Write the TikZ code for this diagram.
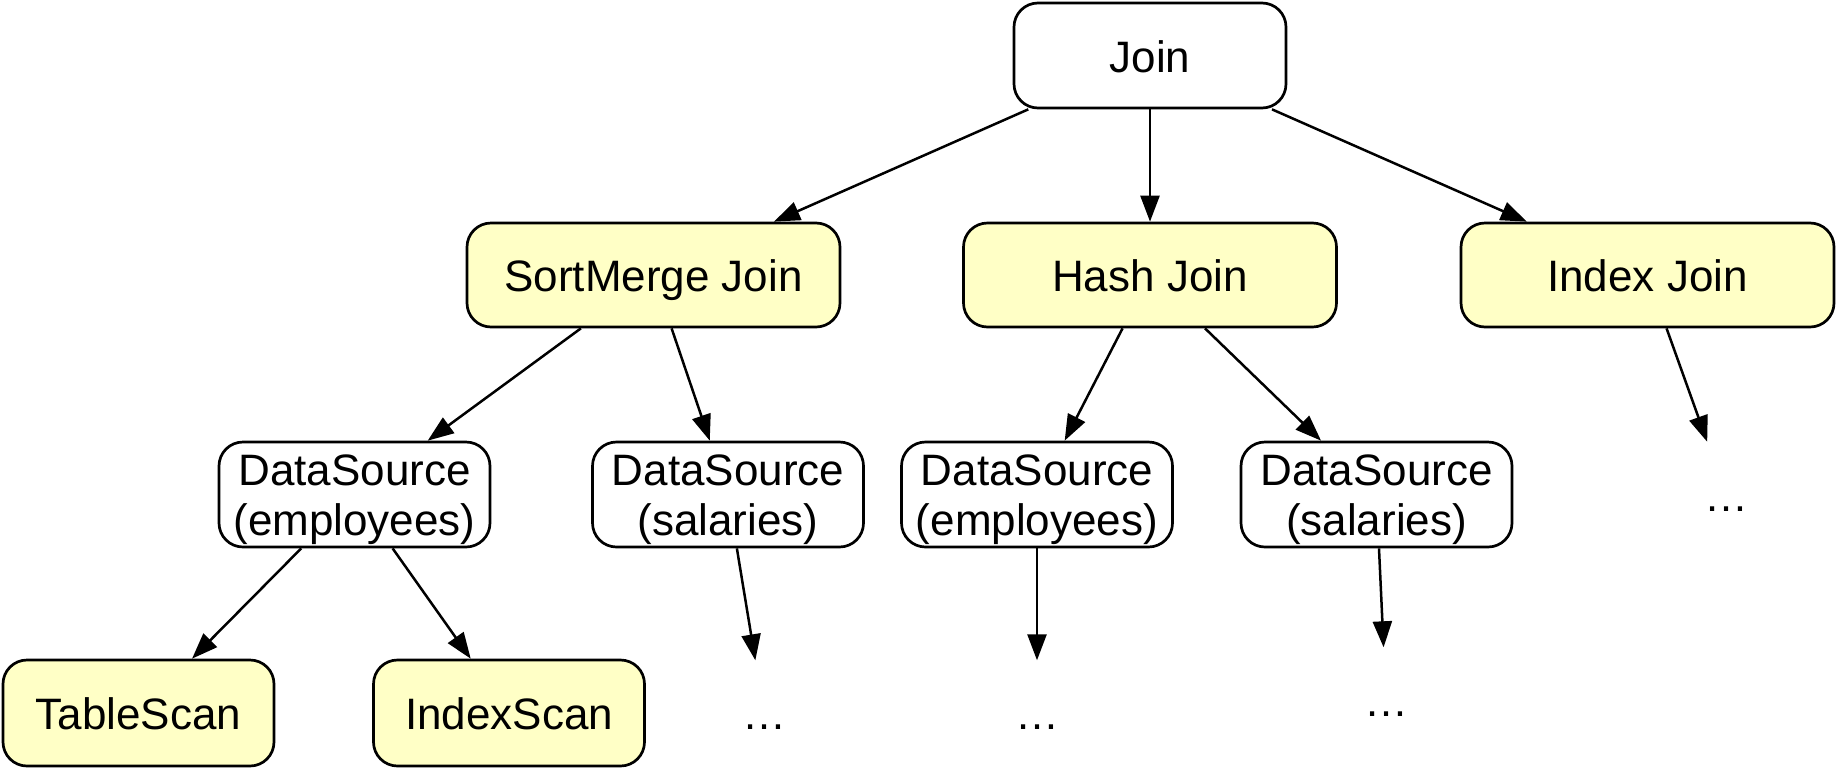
\documentclass[tikz,border=0pt]{standalone}
\usepackage{fontspec}
\setmainfont{Liberation Sans}
\usetikzlibrary{arrows.meta}
\definecolor{nodeyellow}{HTML}{FFFFC6}
\begin{document}
\begin{tikzpicture}[x=1pt,y=-1pt,
  basebox/.style={rectangle, rounded corners=24pt, draw=black, line width=2.7pt, inner sep=0pt,
    font=\fontsize{44}{44}\selectfont, text height=42pt, text depth=9pt},
  plainbox/.style={basebox, fill=white},
  yellowbox/.style={basebox, fill=nodeyellow},
  joinbox/.style={plainbox, minimum width=272pt, minimum height=105pt},
  algbox/.style={yellowbox, minimum width=373pt, minimum height=104pt},
  dsbox/.style={plainbox, minimum width=271pt, minimum height=105pt, font=\fontsize{44}{50}\selectfont,
    text height=20pt, text depth=39pt},
  scanbox/.style={yellowbox, minimum width=271pt, minimum height=106pt},
  dotsbox/.style={rectangle, inner sep=0pt, minimum width=271pt, minimum height=105pt,
    font=\fontsize{44}{44}\selectfont, text height=42pt, text depth=9pt},
  edge/.style={-{Triangle[length=26pt,width=19pt]}, line width=2.5pt}
]
\useasboundingbox (0,0) rectangle (1836,769);

\node[joinbox] (join) at (1150,55.5) {Join};

\node[algbox] (smj) at (653.5,275) {SortMerge Join};
\node[algbox] (hj) at (1150,275) {Hash Join};
\node[algbox] (ij) at (1647.5,275) {Index Join};

\node[dsbox] (e1) at (354.5,494.5) {\begin{tabular}[t]{@{}c@{}}DataSource\\(employees)\end{tabular}};
\node[dsbox] (s1) at (728,494.5) {\begin{tabular}[t]{@{}c@{}}DataSource\\(salaries)\end{tabular}};
\node[dsbox] (e2) at (1037,494.5) {\begin{tabular}[t]{@{}c@{}}DataSource\\(employees)\end{tabular}};
\node[dsbox] (s2) at (1376.5,494.5) {\begin{tabular}[t]{@{}c@{}}DataSource\\(salaries)\end{tabular}};
\node[dotsbox] (idots) at (1726,494.5) {…};

\node[scanbox] (ts) at (138.5,713) {TableScan};
\node[scanbox] (is) at (509,713) {IndexScan};
\node[dotsbox] (s1dots) at (764,713) {…};
\node[dotsbox] (e2dots) at (1037,713) {…};
\node[dotsbox] (s2dots) at (1386,700) {…};

\draw[edge] (join) -- (smj);
\draw[edge] (join) -- (hj);
\draw[edge] (join) -- (ij);
\draw[edge] (smj) -- (e1);
\draw[edge] (smj) -- (s1);
\draw[edge] (hj) -- (e2);
\draw[edge] (hj) -- (s2);
\draw[edge] (ij) -- (idots);
\draw[edge] (e1) -- (ts);
\draw[edge] (e1) -- (is);
\draw[edge] (s1) -- (s1dots);
\draw[edge] (e2) -- (e2dots);
\draw[edge] (s2) -- (s2dots);
\end{tikzpicture}
\end{document}
